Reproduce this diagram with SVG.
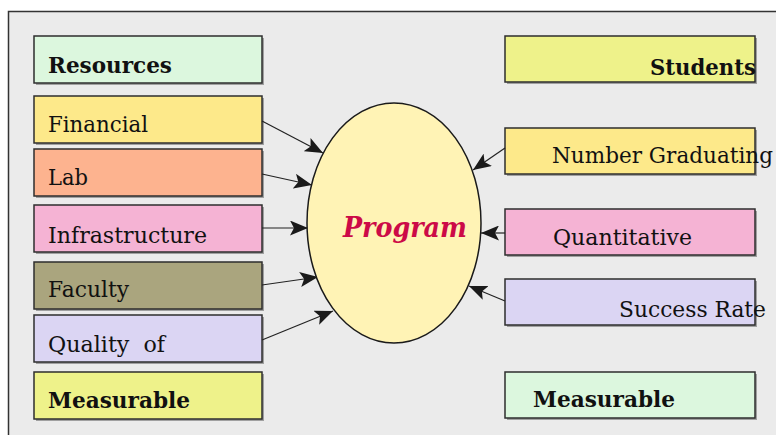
<svg xmlns="http://www.w3.org/2000/svg" width="776" height="435" viewBox="0 0 776 435">
<defs>
<marker id="ah" markerUnits="userSpaceOnUse" markerWidth="19" markerHeight="15" refX="18" refY="7.5" orient="auto">
<path d="M0,0 L18,7.5 L0,15 L4,7.5 Z" fill="#1a1a1a"/>
</marker>
<style>
.box{stroke:#2e2e2e;stroke-width:1.5}
.sh{fill:#a0a0a0}
.t{font-family:"DejaVu Serif","Liberation Serif",serif;font-size:23px;fill:#111}
.b{font-weight:bold;font-size:22px}
.c{stroke:#222;stroke-width:1.2;fill:none;marker-end:url(#ah)}
</style>
</defs>
<rect x="0" y="0" width="776" height="435" fill="#ffffff"/>
<rect x="8.5" y="11.5" width="800" height="500" fill="#ebebeb" stroke="#333" stroke-width="1.5"/>
<g id="resources"><rect class="sh" x="36" y="38" width="228" height="47"/><rect class="box" x="34" y="36" width="228" height="47" fill="#dcf7de"/><text class="t b" x="48" y="73" textLength="124" lengthAdjust="spacingAndGlyphs">Resources</text></g>
<g id="financial"><rect class="sh" x="36" y="98" width="228" height="47"/><rect class="box" x="34" y="96" width="228" height="47" fill="#fde98a"/><text class="t" x="48" y="132" textLength="100" lengthAdjust="spacingAndGlyphs">Financial</text></g>
<g id="lab"><rect class="sh" x="36" y="151" width="228" height="47"/><rect class="box" x="34" y="149" width="228" height="47" fill="#fdb38f"/><text class="t" x="48" y="185" textLength="40" lengthAdjust="spacingAndGlyphs">Lab</text></g>
<g id="infrastructure"><rect class="sh" x="36" y="207" width="228" height="47"/><rect class="box" x="34" y="205" width="228" height="47" fill="#f5b3d4"/><text class="t" x="48" y="243" textLength="159" lengthAdjust="spacingAndGlyphs">Infrastructure</text></g>
<g id="faculty"><rect class="sh" x="36" y="264" width="228" height="47"/><rect class="box" x="34" y="262" width="228" height="47" fill="#aaa57e"/><text class="t" x="48" y="297" textLength="81" lengthAdjust="spacingAndGlyphs">Faculty</text></g>
<g id="quality"><rect class="sh" x="36" y="317" width="228" height="47"/><rect class="box" x="34" y="315" width="228" height="47" fill="#dbd5f3"/><text class="t" x="48" y="352" textLength="117" lengthAdjust="spacingAndGlyphs">Quality&#160; of</text></g>
<g id="measurable-left"><rect class="sh" x="36" y="374" width="228" height="47"/><rect class="box" x="34" y="372" width="228" height="47" fill="#eef28a"/><text class="t b" x="48" y="408" textLength="142" lengthAdjust="spacingAndGlyphs">Measurable</text></g>
<g id="students"><rect class="sh" x="507" y="38" width="250" height="46"/><rect class="box" x="505" y="36" width="250" height="46" fill="#eef28a"/><text class="t b" x="650" y="75" textLength="106" lengthAdjust="spacingAndGlyphs">Students</text></g>
<g id="number-graduating"><rect class="sh" x="507" y="130" width="250" height="46"/><rect class="box" x="505" y="128" width="250" height="46" fill="#fde98a"/><text class="t" x="552" y="163" textLength="221" lengthAdjust="spacingAndGlyphs">Number Graduating</text></g>
<g id="quantitative"><rect class="sh" x="507" y="211" width="250" height="46"/><rect class="box" x="505" y="209" width="250" height="46" fill="#f5b3d4"/><text class="t" x="553" y="245" textLength="139" lengthAdjust="spacingAndGlyphs">Quantitative</text></g>
<g id="success-rate"><rect class="sh" x="507" y="281" width="250" height="46"/><rect class="box" x="505" y="279" width="250" height="46" fill="#dbd5f3"/><text class="t" x="619" y="317" textLength="147" lengthAdjust="spacingAndGlyphs">Success Rate</text></g>
<g id="measurable-right"><rect class="sh" x="507" y="374" width="250" height="46"/><rect class="box" x="505" y="372" width="250" height="46" fill="#dcf7de"/><text class="t b" x="533" y="407" textLength="142" lengthAdjust="spacingAndGlyphs">Measurable</text></g>
<g id="connectors">
<line class="c" x1="262" y1="121" x2="323" y2="153"/>
<line class="c" x1="262" y1="174" x2="312" y2="185"/>
<line class="c" x1="262" y1="228" x2="308" y2="228"/>
<line class="c" x1="262" y1="285" x2="318" y2="277"/>
<line class="c" x1="262" y1="340" x2="333" y2="311"/>
<line class="c" x1="505" y1="148" x2="473" y2="170"/>
<line class="c" x1="505" y1="233" x2="481" y2="233"/>
<line class="c" x1="505" y1="301" x2="469" y2="286"/>
</g>
<g id="program"><ellipse cx="394" cy="223" rx="87" ry="120" fill="#fff3b5" stroke="#1a1a1a" stroke-width="1.5"/><text x="343" y="237" textLength="124" lengthAdjust="spacingAndGlyphs" style="font-family:'DejaVu Serif','Liberation Serif',serif;font-size:27px;font-weight:bold;font-style:italic;fill:#cc0a47">Program</text></g>
</svg>
